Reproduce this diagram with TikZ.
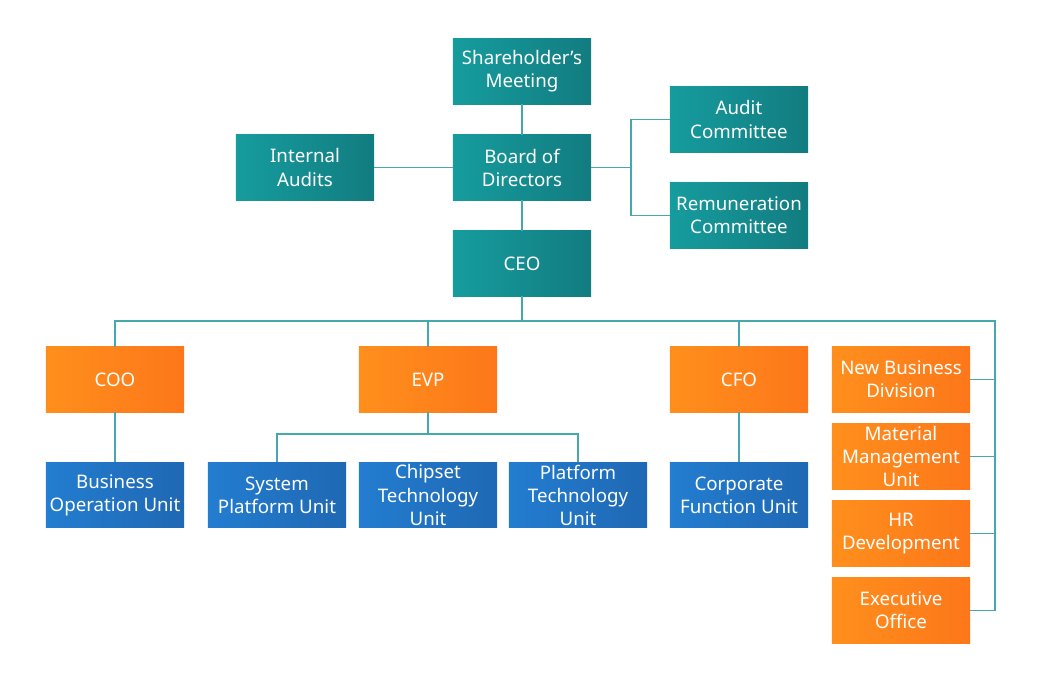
\documentclass[tikz,border=0pt]{standalone}
\usepackage{fontspec}
\setmainfont{Noto Sans}

\definecolor{tealA}{HTML}{169C9E}
\definecolor{tealB}{HTML}{127C80}
\definecolor{orangeA}{HTML}{FF8F1C}
\definecolor{orangeB}{HTML}{FD771A}
\definecolor{blueA}{HTML}{237DD0}
\definecolor{blueB}{HTML}{1F68B4}
\definecolor{wire}{HTML}{45A9AC}

\tikzset{
  unit/.style={minimum width=3.45cm, minimum height=1.625cm, inner sep=1pt,
    align=center, text=white, font=\fontsize{13.3}{16.4}\selectfont,
    execute at begin node={\vspace*{5pt}}},
  board/.style={unit, left color=tealA, right color=tealB},
  exec/.style={unit, left color=orangeA, right color=orangeB},
  dept/.style={unit, left color=blueA, right color=blueB},
  wires/.style={draw=wire, line width=1.1pt}
}

\begin{document}
\begin{tikzpicture}[x=0.025cm, y=-0.025cm]
                \useasboundingbox (0, 0) rectangle (1040, 682);
                % Paths, nodes and wires:
                \node[board] (share) at (522, 71.5) {Shareholder’s\\Meeting};
                \node[board] (bod) at (522, 167.5) {Board of\\Directors};
                \node[board] (ceo) at (522, 263.5) {CEO};
                \node[board] (intaud) at (305, 167.5) {Internal\\Audits};
                \node[board] (audcom) at (739, 119.5) {Audit\\Committee};
                \node[board] (remcom) at (739, 215.5) {Remuneration\\Committee};
                \node[exec] (coo) at (115, 379.5) {COO};
                \node[exec] (evp) at (428, 379.5) {EVP};
                \node[exec] (cfo) at (739, 379.5) {CFO};
                \node[dept] (bou) at (115, 495) {Business\\Operation Unit};
                \node[dept] (spu) at (277, 495) {System\\Platform Unit};
                \node[dept] (ctu) at (428, 495) {Chipset\\Technology\\Unit};
                \node[dept] (ptu) at (578, 495) {Platform\\Technology\\Unit};
                \node[dept] (cfu) at (739, 495) {Corporate\\Function Unit};
                \node[exec] (nbd) at (901, 379.5) {New Business\\Division};
                \node[exec] (mmu) at (901, 456.5) {Material\\Management\\Unit};
                \node[exec] (hrd) at (901, 533.5) {HR\\Development};
                \node[exec] (exo) at (901, 610.5) {Executive\\Office};
                \coordinate (split) at (522, 321);
                \coordinate (rail) at (995, 321);
                \coordinate (evpsplit) at (428, 434);
                \coordinate (comsplit) at (631, 167.5);
                \draw[wires] (share) -- (bod);
                \draw[wires] (bod) -- (ceo);
                \draw[wires] (intaud) -- (bod);
                \draw[wires] (bod) -- (comsplit) |- (audcom);
                \draw[wires] (comsplit) |- (remcom);
                \draw[wires] (ceo) -- (split);
                \draw[wires] (coo.north) |- (rail) -- (rail |- exo);
                \draw[wires] (evp) -- (evp |- split);
                \draw[wires] (cfo) -- (cfo |- split);
                \draw[wires] (nbd) -- (rail |- nbd);
                \draw[wires] (mmu) -- (rail |- mmu);
                \draw[wires] (hrd) -- (rail |- hrd);
                \draw[wires] (exo) -- (rail |- exo);
                \draw[wires] (coo) -- (bou);
                \draw[wires] (cfo) -- (cfu);
                \draw[wires] (evp) -- (evpsplit);
                \draw[wires] (spu.north) |- (evpsplit) -| (ptu.north);
            \end{tikzpicture}
\end{document}
